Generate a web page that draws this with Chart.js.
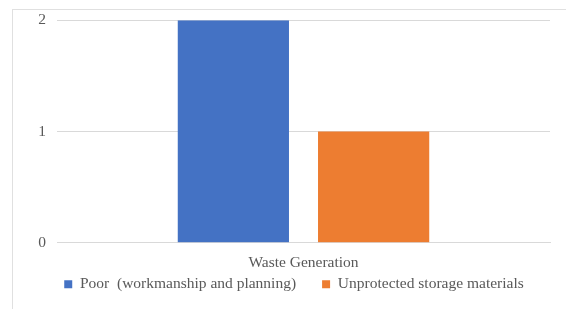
<!DOCTYPE html>
<html>
<head>
<meta charset="utf-8">
<script src="https://cdn.jsdelivr.net/npm/chart.js@4.4.0/dist/chart.umd.min.js"></script>
<style>
  html, body { margin: 0; padding: 0; background: #fff; }
  #wrap { position: relative; width: 566px; height: 309px; overflow: hidden; }
  #frame { position: absolute; left: 12px; top: 9px; width: 600px; height: 400px;
           border-top: 1px solid #e0e0e0; border-left: 1px solid #e0e0e0; }
  canvas { position: absolute; left: 0; top: 0; }
</style>
</head>
<body>
<div id="wrap">
  <div id="frame"></div>
  <canvas id="chart" width="566" height="309"></canvas>
</div>
<script>
// 資料
const categories = ['Waste Generation'];
const seriesNames = ['Poor  (workmanship and planning)', 'Unprotected storage materials'];
const poorValues = [2];
const unprotectedValues = [1];
const yTicks = [0, 1, 2];

const colors = ['#4472C4', '#ED7D31'];
const textColor = '#595959';
const gridColor = '#d9d9d9';

Chart.defaults.font.family = "'Liberation Serif', serif";
Chart.defaults.font.size = 15.5;
Chart.defaults.color = textColor;

const ctx = document.getElementById('chart').getContext('2d');

new Chart(ctx, {
    type: 'bar',
    data: {
        labels: categories,
        datasets: [
            { label: seriesNames[0], data: poorValues, backgroundColor: colors[0] },
            { label: seriesNames[1], data: unprotectedValues, backgroundColor: colors[1] }
        ]
    },
    options: {
        responsive: false,
        animation: false,
        layout: { padding: { top: 10, right: 16, left: 38, bottom: 7 } },
        datasets: {
            bar: { barPercentage: 0.793, categoryPercentage: 0.569 }
        },
        scales: {
            x: {
                grid: { display: false, drawTicks: false, tickLength: 0 },
                border: { color: gridColor, width: 1 },
                ticks: { padding: 10.5 },
                afterFit: function(scale) { scale.height = 30; }
            },
            y: {
                min: 0,
                max: 2,
                afterBuildTicks: function(scale) {
                    scale.ticks = yTicks.map(v => ({ value: v }));
                },
                afterFit: function(scale) { scale.width = 19; },
                grid: { color: gridColor, drawTicks: false },
                border: { display: false },
                ticks: { padding: 11 }
            }
        },
        plugins: {
            legend: {
                position: 'bottom',
                // 空標題用來收緊圖例上方的間距
                title: { display: true, text: '', font: { size: 10 }, padding: { top: 0, bottom: -34.25 } },
                labels: { boxWidth: 8, boxHeight: 8, padding: 26 }
            },
            tooltip: { enabled: false }
        }
    }
});
</script>
</body>
</html>
